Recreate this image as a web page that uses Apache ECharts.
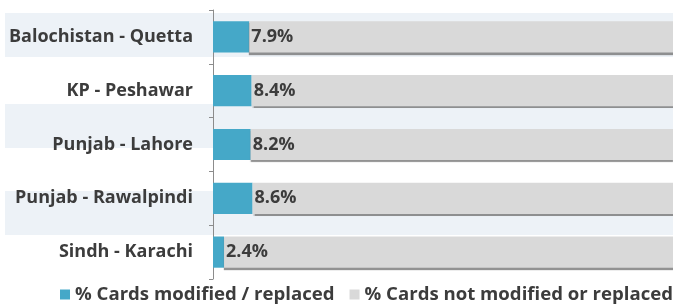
<!DOCTYPE html>
<html>
<head>
<meta charset="utf-8">
<script src="https://cdn.jsdelivr.net/npm/echarts@6/dist/echarts.min.js"></script>
<style>html,body{margin:0;padding:0;background:#fff}#c{width:673px;height:304px}</style>
</head>
<body>
<div id="c"></div>
<script>
const categories = ['Balochistan - Quetta', 'KP - Peshawar', 'Punjab - Lahore', 'Punjab - Rawalpindi', 'Sindh - Karachi'];
const modified = [7.9, 8.4, 8.2, 8.6, 2.4];
const notModified = [92.1, 91.6, 91.8, 91.4, 97.6];
const seriesNames = ['% Cards modified / replaced', '% Cards not modified or replaced'];

const chart = echarts.init(document.getElementById('c'), null, {renderer: 'canvas'});
const font = '"Open Sans", sans-serif';
const stripe = '#edf2f7';
chart.setOption({
  animation: false,
  graphic: [
    {type: 'rect', z: -10, shape: {x: 5, y: 13, width: 668, height: 44}, style: {fill: stripe}},
    {type: 'rect', z: -10, shape: {x: 5, y: 104, width: 668, height: 44}, style: {fill: stripe}},
    {type: 'rect', z: -10, shape: {x: 5, y: 191, width: 668, height: 44}, style: {fill: stripe}}
  ],
  grid: {left: 213, right: -31, top: 10, bottom: 25, containLabel: false},
  xAxis: {type: 'value', min: 0, max: 100, show: false},
  yAxis: {
    type: 'category', data: categories, inverse: true,
    axisLine: {show: true, lineStyle: {color: '#8c8c8c', width: 1}},
    axisTick: {show: true, length: 4, lineStyle: {color: '#8c8c8c'}},
    axisLabel: {margin: 20, color: '#3c3c3c', fontFamily: font, fontWeight: 'bold', fontSize: 18}
  },
  legend: {
    left: 60, top: 285, width: 720, padding: 0, itemWidth: 10, itemHeight: 10, itemGap: 15, icon: 'rect',
    textStyle: {color: '#3c3c3c', fontFamily: font, fontWeight: 'bold', fontSize: 18.6},
    data: seriesNames
  },
  series: [
    {
      name: seriesNames[0], type: 'bar', stack: 's', data: modified, barWidth: '58%',
      itemStyle: {color: '#45a8c8'},
      label: {show: true, position: 'right', distance: 2, formatter: p => p.value.toFixed(1) + '%',
        color: '#3c3c3c', fontFamily: font, fontWeight: 'bold', fontSize: 18}
    },
    {
      name: seriesNames[1], type: 'bar', stack: 's', data: notModified, barWidth: '58%',
      itemStyle: {color: '#d9d9d9', shadowColor: 'rgba(110,110,110,0.75)', shadowOffsetY: 2, shadowBlur: 1}
    }
  ]
});
</script>
</body>
</html>
